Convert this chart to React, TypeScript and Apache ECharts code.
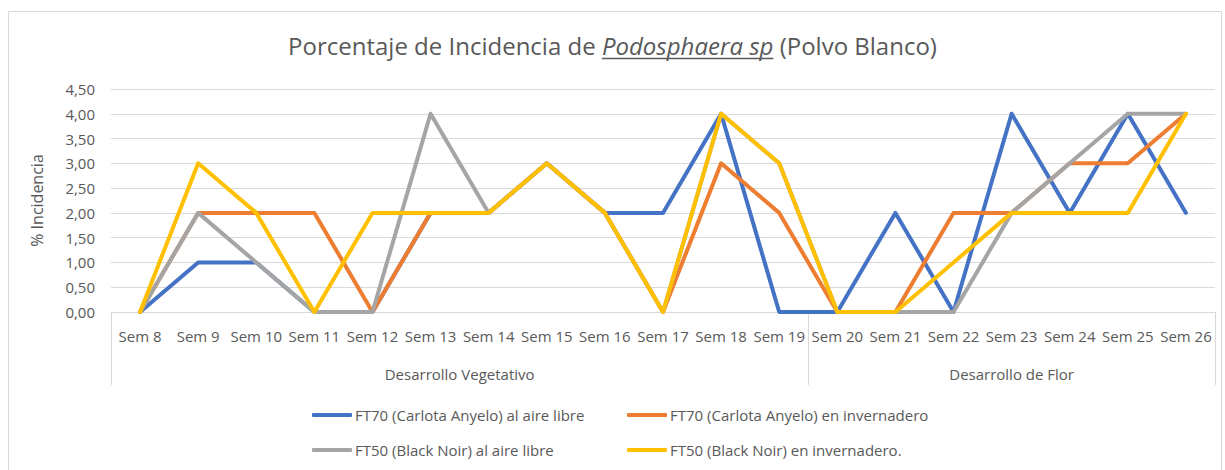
import React, { useEffect, useRef } from "react";
import * as echarts from "echarts";

const categories = [
  "Sem 8", "Sem 9", "Sem 10", "Sem 11", "Sem 12", "Sem 13", "Sem 14", "Sem 15", "Sem 16", "Sem 17",
  "Sem 18", "Sem 19", "Sem 20", "Sem 21", "Sem 22", "Sem 23", "Sem 24", "Sem 25", "Sem 26",
];
const groupNames = ["Desarrollo Vegetativo", "Desarrollo de Flor"];
const groupSizes = [12, 7];

const seriesNames = [
  "FT70 (Carlota Anyelo) al aire libre",
  "FT70 (Carlota Anyelo) en invernadero",
  "FT50 (Black Noir) al aire libre",
  "FT50 (Black Noir) en invernadero.",
];
const ft70Aire = [0, 1, 1, 0, 0, 2, 2, 3, 2, 2, 4, 0, 0, 2, 0, 4, 2, 4, 2];
const ft70Inv = [0, 2, 2, 2, 0, 2, 2, 3, 2, 0, 3, 2, 0, 0, 2, 2, 3, 3, 4];
const ft50Aire = [0, 2, 1, 0, 0, 4, 2, 3, 2, 0, 4, 3, 0, 0, 0, 2, 3, 4, 4];
const ft50Inv = [0, 3, 2, 0, 2, 2, 2, 3, 2, 0, 4, 3, 0, 0, 1, 2, 2, 2, 4];
const seriesData = [ft70Aire, ft70Inv, ft50Aire, ft50Inv];
const colors = ["#4472C4", "#ED7D31", "#A5A5A5", "#FFC000"];

const titleA = "Porcentaje de Incidencia de ";
const titleB = "Podosphaera sp";
const titleC = " (Polvo Blanco)";

const FONT = "'Open Sans', sans-serif";
const TXT = "#595959";

export default function App() {
  const ref = useRef<HTMLDivElement>(null);
  useEffect(() => {
    document.body.style.margin = "0";
    const chart = echarts.init(ref.current!, null, { renderer: "svg" });
    const titleSize = 24;
    const option: any = {
      animation: false,
      color: colors,
      textStyle: { fontFamily: FONT, color: TXT },
      title: {
        left: "center",
        top: 30,
        padding: 0,
        text: `{a|${titleA}}{b|${titleB}}{a|${titleC}}`,
        textStyle: {
          fontWeight: "normal",
          rich: {
            a: { fontFamily: FONT, fontSize: titleSize, fontWeight: "normal", color: TXT, lineHeight: 30 },
            b: { fontFamily: FONT, fontSize: titleSize, fontWeight: "normal", color: TXT, fontStyle: "italic", lineHeight: 30 },
          },
        },
      },
      grid: { left: 111, right: 10, top: 89, bottom: 158, containLabel: false },
      legend: [0, 1, 2, 3].map((i) => ({
        data: [seriesNames[i]],
        left: i % 2 === 0 ? 312 : 627,
        top: i < 2 ? 405 : 440,
        padding: 0,
        icon: "roundRect",
        itemWidth: 40,
        itemHeight: 4,
        textStyle: { fontFamily: FONT, fontSize: 15, color: TXT, lineHeight: 20, padding: [0, 0, 0, -2] },
      })),
      xAxis: {
        type: "category",
        data: categories,
        boundaryGap: true,
        axisLine: { show: true, lineStyle: { color: "#D9D9D9", width: 1 } },
        axisTick: { show: false },
        axisLabel: {
          interval: 0,
          margin: 15,
          fontFamily: FONT,
          fontSize: 15,
          color: TXT,
          lineHeight: 18,
        },
      },
      yAxis: {
        type: "value",
        min: 0,
        max: 4.5,
        interval: 0.5,
        name: "% Incidencia",
        nameLocation: "middle",
        nameRotate: 90,
        nameGap: 66,
        nameTextStyle: { fontFamily: FONT, fontSize: 16, color: TXT },
        axisLine: { show: false },
        axisTick: { show: false },
        axisLabel: {
          margin: 16,
          fontFamily: FONT,
          fontSize: 15,
          color: TXT,
          formatter: (v: number) => v.toFixed(2).replace(".", ","),
        },
        splitLine: { show: true, lineStyle: { color: "#D9D9D9", width: 1 } },
      },
      series: seriesNames.map((n, i) => ({
        name: n,
        type: "line",
        data: seriesData[i],
        symbol: "none",
        lineStyle: { width: 4, color: colors[i], cap: "round", join: "round" },
        itemStyle: { color: colors[i] },
      })),
    };
    chart.setOption(option);

    const ctx = document.createElement("canvas").getContext("2d")!;
    ctx.font = `${titleSize}px ${FONT}`;
    const wA = ctx.measureText(titleA).width;
    const wC = ctx.measureText(titleC).width;
    ctx.font = `italic ${titleSize}px ${FONT}`;
    const wB = ctx.measureText(titleB).width;
    const total = wA + wB + wC;
    const cw = chart.getWidth();
    const start = cw / 2 - total / 2;

    const c0 = chart.convertToPixel({ xAxisIndex: 0 }, categories[0]) as number;
    const c1 = chart.convertToPixel({ xAxisIndex: 0 }, categories[1]) as number;
    const band = c1 - c0;
    const y0 = chart.convertToPixel({ yAxisIndex: 0 }, 0) as number;
    const bounds: number[] = [c0 - band / 2];
    let acc = 0;
    groupSizes.forEach((s) => {
      acc += s;
      bounds.push(c0 - band / 2 + acc * band);
    });
    const graphics: any[] = [
      {
        type: "rect",
        shape: { x: 8.5, y: 11.5, width: 1213, height: 470 },
        style: { fill: "none", stroke: "#D9D9D9", lineWidth: 1 },
        silent: true,
      },
      {
        type: "line",
        shape: { x1: start + wA, y1: 58.5, x2: start + wA + wB, y2: 58.5 },
        style: { stroke: TXT, lineWidth: 1.5 },
      },
    ];
    bounds.forEach((b) => {
      graphics.push({
        type: "line",
        shape: { x1: Math.round(b) + 0.5, y1: y0, x2: Math.round(b) + 0.5, y2: 385 },
        style: { stroke: "#D9D9D9", lineWidth: 1 },
      });
    });
    groupNames.forEach((g, i) => {
      graphics.push({
        type: "text",
        x: (bounds[i] + bounds[i + 1]) / 2,
        y: 374,
        style: {
          text: g,
          fontFamily: FONT,
          fontSize: 15,
          fill: TXT,
          align: "center",
          verticalAlign: "middle",
        },
      });
    });
    chart.setOption({ graphic: graphics });
    return () => chart.dispose();
  }, []);
  return <div ref={ref} style={{ width: 1225, height: 470 }} />;
}
